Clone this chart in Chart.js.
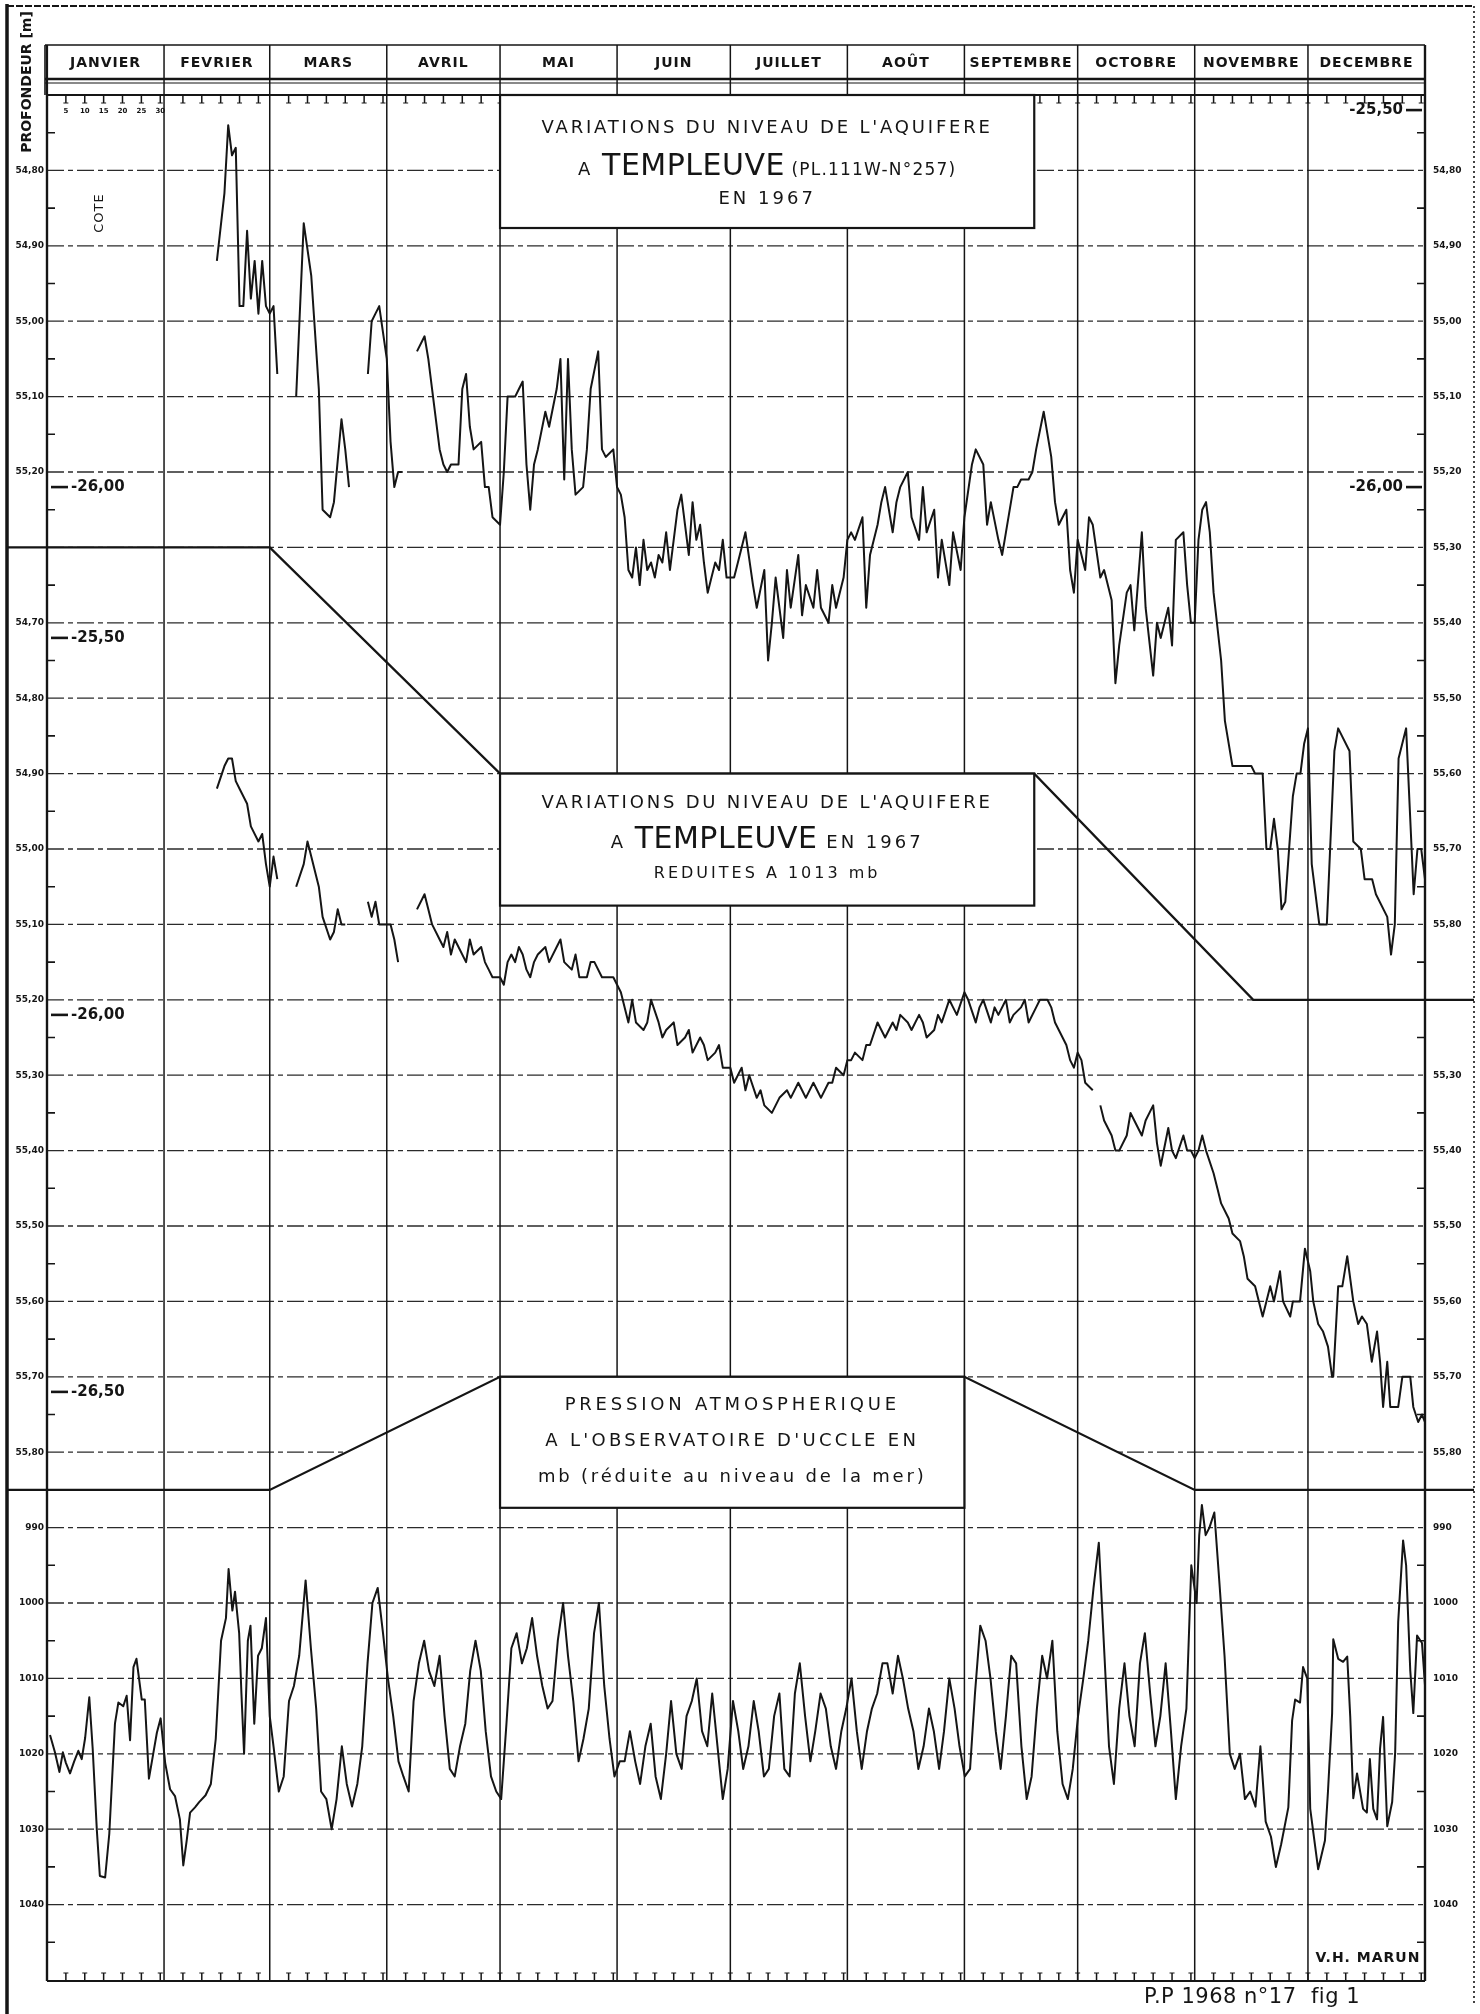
<!DOCTYPE html>
<html><head><meta charset="utf-8">
<script src="https://cdn.jsdelivr.net/npm/chart.js@4.4.1/dist/chart.umd.min.js"></script>
<style>html,body{margin:0;padding:0;background:#fff}#wrap{position:relative;width:1480px;height:2014px}</style>
</head><body><div id="wrap"><canvas id="c" width="1480" height="2014"></canvas></div>
<script>
// ---------- DATA ----------
const months = ['JANVIER','FEVRIER','MARS','AVRIL','MAI','JUIN','JUILLET','AOÛT','SEPTEMBRE','OCTOBRE','NOVEMBRE','DECEMBRE'];
const monthLengths = [31,28,31,30,31,30,31,31,30,31,30,31];
const janDayLabels = ['5','10','15','20','25','30'];
const topTicks = [54.80,54.90,55.00,55.10,55.20,55.30,55.40,55.50,55.60,55.70,55.80];
const midTicks = [54.70,54.80,54.90,55.00,55.10,55.20,55.30,55.40,55.50,55.60,55.70,55.80];
const pressTicks = [990,1000,1010,1020,1030,1040];
const depthLabels = ['-25,50','-26,00','-26,50'];
const depthCote = [54.72,55.22,55.72];

// Raw level (cote, m), day of year 1967
const topDays = [
 45,47,48,49,50,51,52,53,54,55,56,57,58,59,60,61, 63,
 66,68,70,72,73,75,76,78,79,80, 82,
 85,86,87,88,90,91,92,93,94, 96,
 98,100,101,102,104,105,106,107,109,110,111,112,113,115,116,117,118,120,
 121,122,123,124,125,126,127,128,129,130,132,133,135,136,137,138,139,140,142,143,144,146,147,148,150,151,152,
 153,154,155,156,157,158,159,160,161,162,163,164,165,166,167,168,169,170,171,172,173,174,175,176,177,178,179,180,
 182,184,185,187,188,190,191,192,193,195,196,197,199,200,201,203,204,205,207,208,209,211,212,213,
 214,216,217,218,220,221,222,224,225,226,228,229,231,232,233,235,236,237,239,240,242,243,
 245,246,248,249,250,252,253,254,256,257,258,260,261,262,264,266,267,268,270,271,272,
 273,275,276,277,279,280,282,283,284,286,287,288,290,291,293,294,295,297,298,299,301,302,303,304,
 305,306,307,308,309,311,312,314,315,316,318,319,320,322,323,324,325,326,327,328,330,331,332,333,334,335,336,337,339,341,342,345,346,348,349,351,352,355,356,357,358,360,362,363,364,365];
const topLevel = [
 54.92,54.83,54.74,54.78,54.77,54.98,54.98,54.88,54.97,54.92,54.99,54.92,54.98,54.99,54.98,55.07, null,
 55.10,54.87,54.94,55.09,55.25,55.26,55.24,55.13,55.17,55.22, null,
 55.07,55.00,54.99,54.98,55.05,55.16,55.22,55.20,55.20, null,
 55.04,55.02,55.05,55.09,55.17,55.19,55.20,55.19,55.19,55.09,55.07,55.14,55.17,55.16,55.22,55.22,55.26,55.27,
 55.20,55.10,55.10,55.10,55.09,55.08,55.19,55.25,55.19,55.17,55.12,55.14,55.09,55.05,55.21,55.05,55.17,55.23,55.22,55.17,55.09,55.04,55.17,55.18,55.17,55.22,55.23,
 55.26,55.33,55.34,55.30,55.35,55.29,55.33,55.32,55.34,55.31,55.32,55.28,55.33,55.29,55.25,55.23,55.27,55.31,55.24,55.29,55.27,55.32,55.36,55.34,55.32,55.33,55.29,55.34,
 55.34,55.30,55.28,55.35,55.38,55.33,55.45,55.40,55.34,55.42,55.33,55.38,55.31,55.39,55.35,55.38,55.33,55.38,55.40,55.35,55.38,55.34,55.29,55.28,
 55.29,55.26,55.38,55.31,55.27,55.24,55.22,55.28,55.24,55.22,55.20,55.26,55.29,55.22,55.28,55.25,55.34,55.29,55.35,55.28,55.33,55.26,
 55.19,55.17,55.19,55.27,55.24,55.29,55.31,55.28,55.22,55.22,55.21,55.21,55.20,55.17,55.12,55.18,55.24,55.27,55.25,55.33,55.36,
 55.29,55.33,55.26,55.27,55.34,55.33,55.37,55.48,55.43,55.36,55.35,55.41,55.28,55.38,55.47,55.40,55.42,55.38,55.43,55.29,55.28,55.35,55.40,55.40,
 55.29,55.25,55.24,55.28,55.36,55.45,55.53,55.59,55.59,55.59,55.59,55.59,55.60,55.60,55.70,55.70,55.66,55.70,55.78,55.77,55.63,55.60,55.60,55.56,55.54,55.72,55.76,55.80,55.80,55.57,55.54,55.57,55.69,55.70,55.74,55.74,55.76,55.79,55.84,55.80,55.58,55.54,55.76,55.70,55.70,55.74];

// Level reduced to 1013 mb (cote, m)
const midDays = [
 45,47,48,49,50,51,53,54,56,57,58,59,60,61, 63,
 66,68,69,70,72,73,75,76,77,78,79, 82,
 85,86,87,88,90,91,92,93, 96,
 98,100,101,102,104,105,106,107,108,109,111,112,113,115,116,117,118,120,121,
 122,123,124,125,126,127,128,129,130,132,133,135,136,137,139,140,141,143,144,145,147,148,150,151,152,
 154,155,156,158,159,160,162,163,164,166,167,169,170,171,173,174,175,177,178,179,181,182,
 184,185,186,188,189,190,192,193,194,196,197,199,200,201,203,204,205,207,208,209,211,212,213,
 214,216,217,218,220,221,222,224,225,226,228,229,231,232,233,235,236,237,239,240,241,243,
 244,246,247,248,250,251,252,254,255,256,258,259,260,262,263,265,266,267,268,270,271,272,273,274,275,277, 278,
 279,280,282,283,284,286,287,288,290,291,293,294,295,297,298,299,301,302,303,304,305,306,307,309,310,311,313,314,316,317,318,320,321,322,324,325,
 326.6,327.4,329.3,330,331.9,333.2,334.6,335.4,336.7,338,339.3,340.4,340.7,342,343.1,344.4,346,347.3,348.3,349.6,350.9,352.3,353.1,353.9,355,355.8,357.9,359,361.1,361.9,363.2,364.2,365];
const midLevel = [
 54.92,54.89,54.88,54.88,54.91,54.92,54.94,54.97,54.99,54.98,55.02,55.05,55.01,55.04, null,
 55.05,55.02,54.99,55.01,55.05,55.09,55.12,55.11,55.08,55.10,55.10, null,
 55.07,55.09,55.07,55.10,55.10,55.10,55.12,55.15, null,
 55.08,55.06,55.08,55.10,55.12,55.13,55.11,55.14,55.12,55.13,55.15,55.12,55.14,55.13,55.15,55.16,55.17,55.17,55.18,
 55.15,55.14,55.15,55.13,55.14,55.16,55.17,55.15,55.14,55.13,55.15,55.13,55.12,55.15,55.16,55.14,55.17,55.17,55.15,55.15,55.17,55.17,55.17,55.18,55.19,
 55.23,55.20,55.23,55.24,55.23,55.20,55.23,55.25,55.24,55.23,55.26,55.25,55.24,55.27,55.25,55.26,55.28,55.27,55.26,55.29,55.29,55.31,
 55.29,55.32,55.30,55.33,55.32,55.34,55.35,55.34,55.33,55.32,55.33,55.31,55.32,55.33,55.31,55.32,55.33,55.31,55.31,55.29,55.30,55.28,55.28,
 55.27,55.28,55.26,55.26,55.23,55.24,55.25,55.23,55.24,55.22,55.23,55.24,55.22,55.23,55.25,55.24,55.22,55.23,55.20,55.21,55.22,55.19,
 55.20,55.23,55.21,55.20,55.23,55.21,55.22,55.20,55.23,55.22,55.21,55.20,55.23,55.21,55.20,55.20,55.21,55.23,55.24,55.26,55.28,55.29,55.27,55.28,55.31,55.32, null,
 55.34,55.36,55.38,55.40,55.40,55.38,55.35,55.36,55.38,55.36,55.34,55.39,55.42,55.37,55.40,55.41,55.38,55.40,55.40,55.41,55.40,55.38,55.40,55.43,55.45,55.47,55.49,55.51,55.52,55.54,55.57,55.58,55.60,55.62,55.58,55.60,
 55.56,55.60,55.62,55.60,55.60,55.53,55.56,55.60,55.63,55.64,55.66,55.70,55.70,55.58,55.58,55.54,55.60,55.63,55.62,55.63,55.68,55.64,55.68,55.74,55.68,55.74,55.74,55.70,55.70,55.74,55.76,55.75,55.76];

// Atmospheric pressure at Uccle (mb)
const pressDays = [
 0.8,2.1,3.3,4.2,5.0,6.1,7.2,8.3,9.2,10.1,11.2,12.1,13.2,14.0,15.4,16.5,18.0,18.9,20.2,21.1,22.0,22.9,23.7,25.1,25.9,27.0,28.2,29.1,30.1,31.3,32.6,33.9,35.2,36.1,37.0,37.9,39.2,40.3,
 42.0,43.4,44.7,46.1,47.4,48.1,49.1,49.8,50.9,51.5,52.2,53.2,53.9,54.9,55.9,56.9,58.0,59.0,
 60.0,61.4,62.7,64.1,65.4,66.8,68.5,69.9,71.3,72.6,74.0,75.4,76.7,78.1,79.4,80.8,82.2,83.5,84.9,86.2,87.6,89.0,90.3,91.7,93.1,
 94.4,95.8,97.1,98.5,99.9,101.2,102.6,104.0,105.3,106.7,108.0,109.4,110.8,112.1,113.5,114.9,116.2,117.6,119.0,120.3,
 121.7,123.0,124.4,125.8,127.1,128.5,129.8,131.2,132.6,133.9,135.3,136.7,138.0,139.4,140.8,142.1,143.5,144.9,146.2,147.6,149.0,150.3,151.7,
 153.0,154.4,155.8,157.1,158.5,159.9,161.2,162.6,164.0,165.3,166.7,168.1,169.4,170.8,172.1,173.5,174.9,176.2,177.6,179.0,180.3,181.7,
 183.1,184.4,185.8,187.2,188.5,189.9,191.2,192.6,194.0,195.3,196.7,198.1,199.4,200.8,202.2,203.5,204.9,206.3,207.6,209.0,210.4,211.7,213.1,
 214.5,215.8,217.2,218.5,219.9,221.3,222.6,224.0,225.4,226.7,228.1,229.5,230.8,232.2,233.6,234.9,236.3,237.6,239.0,240.4,241.7,243.1,
 244.5,245.8,247.2,248.6,249.9,251.3,252.6,254.0,255.4,256.7,258.1,259.5,260.8,262.2,263.6,264.9,266.3,267.6,269.0,270.4,271.7,273.1,
 274.5,275.8,277.2,278.6,279.9,281.3,282.6,284.0,285.4,286.7,288.1,289.5,290.8,292.2,293.6,294.9,296.3,297.7,299.0,300.4,301.8,303.1,304.5,
 305.2,305.9,306.9,307.9,309.2,310.5,311.9,313.3,314.6,316.0,317.3,318.7,320.1,321.4,322.8,324.2,325.5,326.9,
 328.8,329.8,330.6,331.9,332.7,333.8,334.6,336.7,338.5,339.3,340.4,340.7,342.0,343.3,344.4,345.2,346.0,347.0,348.6,349.6,350.4,351.3,352.3,353.1,353.9,355.0,356.3,357.1,357.9,359.2,360.0,361.1,361.9,362.9,364.2,365.0];
const pressure = [
 1017.5,1019.8,1022.4,1019.8,1021.2,1022.6,1021.0,1019.6,1020.7,1017.9,1012.5,1019.3,1030.1,1036.2,1036.4,1030.6,1016.0,1013.2,1013.7,1012.3,1018.2,1008.5,1007.4,1012.8,1012.8,1023.3,1019.8,1017.2,1015.3,1021.2,1024.7,1025.6,1028.7,1034.8,1031.5,1027.8,1027.1,1026.4,
 1025.5,1024.0,1018.0,1005.0,1002.0,995.5,1001.0,998.5,1004.0,1012.0,1020.0,1005.0,1003.0,1016.0,1007.0,1006.0,1002.0,1015.0,
 1019,1025,1023,1013,1011,1007,997,1006,1014,1025,1026,1030,1026,1019,1024,1027,1024,1019,1008,1000,998,1004,1010,1015,1021,
 1023,1025,1013,1008,1005,1009,1011,1007,1015,1022,1023,1019,1016,1009,1005,1009,1017,1023,1025,1026,
 1016,1006,1004,1008,1006,1002,1007,1011,1014,1013,1005,1000,1007,1013,1021,1018,1014,1004,1000,1011,1018,1023,1021,
 1021,1017,1021,1024,1019,1016,1023,1026,1020,1013,1020,1022,1015,1013,1010,1017,1019,1012,1019,1026,1022,1013,
 1017,1022,1019,1013,1017,1023,1022,1015,1012,1022,1023,1012,1008,1015,1021,1017,1012,1014,1019,1022,1017,1014,1010,
 1017,1022,1017,1014,1012,1008,1008,1012,1007,1010,1014,1017,1022,1019,1014,1017,1022,1017,1010,1014,1019,1023,
 1022,1012,1003,1005,1010,1017,1022,1015,1007,1008,1019,1026,1023,1014,1007,1010,1005,1017,1024,1026,1022,1015,
 1010,1005,998,992,1005,1019,1024,1014,1008,1015,1019,1008,1004,1012,1019,1015,1008,1017,1026,1019,1014,995,1000,
 991,987,991,990,988,997,1007,1020,1022,1020,1026,1025,1027,1019,1029,1031,1035,1032,
 1027.1,1015.6,1012.8,1013.2,1008.5,1010.0,1027.3,1035.3,1031.5,1025.0,1014.6,1004.8,1007.4,1007.8,1007.1,1015.1,1025.9,1022.6,1027.3,1027.8,1020.7,1027.3,1028.7,1019.3,1015.1,1029.6,1026.4,1019.8,1002.5,991.7,995.0,1009.0,1014.6,1004.3,1005.3,1010.9];

// ---------- LAYOUT ----------
const FF = '"DejaVu Sans", "Liberation Sans", sans-serif';
const FRAME_L = 7, FRAME_R = 1474, HDR_TOP = 45, HDR_L1 = 79, HDR_L2 = 83;
const BOX12_RIGHT_DAY = 261.5, DIV1_END_DAY = 319.5;
const INK = '#151515';

function geom(chart){
  const s = chart.scales, ca = chart.chartArea;
  const X = d => s.x.getPixelForValue(d);
  const YT = v => s.yTop.getPixelForValue(v);
  const YM = v => s.yMid.getPixelForValue(v);
  const YB = v => s.yBot.getPixelForValue(v);
  const div1 = [[FRAME_L, YT(55.30)], [X(59), YT(55.30)], [X(120), YM(54.90)], [X(BOX12_RIGHT_DAY), YM(54.90)], [X(DIV1_END_DAY), YT(55.90)], [FRAME_R, YT(55.90)]];
  const div2 = [[FRAME_L, YB(985)], [X(59), YB(985)], [X(120), YM(55.70)], [X(243), YM(55.70)], [X(304), YB(985)], [FRAME_R, YB(985)]];
  return {ca, X, YT, YM, YB, div1, div2};
}
function yAt(poly, x){
  for (let i=0;i<poly.length-1;i++){const [x0,y0]=poly[i],[x1,y1]=poly[i+1]; if(x>=x0&&x<=x1) return x1===x0?y0:y0+(y1-y0)*(x-x0)/(x1-x0);}
  return poly[poly.length-1][1];
}
function pathPoly(ctx, pts, close){ctx.beginPath(); pts.forEach((p,i)=> i?ctx.lineTo(p[0],p[1]):ctx.moveTo(p[0],p[1])); if(close) ctx.closePath();}
function seg(ctx,x0,y0,x1,y1){ctx.beginPath();ctx.moveTo(x0,y0);ctx.lineTo(x1,y1);ctx.stroke();}
function txt(ctx, s, x, y, font, ls, align, base){
  ctx.font = font; ctx.letterSpacing = (ls||0)+'px'; ctx.textAlign = align||'center'; ctx.textBaseline = base||'middle';
  ctx.fillText(s, x, y); ctx.letterSpacing = '0px';
}
function richLine(ctx, parts, cx, baseY){
  let w = 0;
  parts.forEach(p=>{ctx.font=p.f; ctx.letterSpacing=p.ls+'px'; p.w = ctx.measureText(p.t).width; w += p.w;});
  let x = cx - w/2;
  parts.forEach(p=>{ctx.font=p.f; ctx.letterSpacing=p.ls+'px'; ctx.textAlign='left'; ctx.textBaseline='alphabetic'; ctx.fillText(p.t, x, baseY); x += p.w;});
  ctx.letterSpacing='0px';
}
const fmt = v => v.toFixed(2).replace('.', ',');

const decor = {
  id:'decor',
  beforeDraw(chart){const c=chart.ctx; c.save(); c.fillStyle='#fff'; c.fillRect(0,0,chart.width,chart.height); c.restore();},
  beforeDatasetsDraw(chart){
    const ctx = chart.ctx; const {ca, X, YT, YM, YB, div1, div2} = geom(chart);
    ctx.save();
    ctx.strokeStyle = INK; ctx.fillStyle = INK;
    const topPoly = [[FRAME_L, ca.top], [FRAME_R, ca.top], ...div1.slice().reverse()];
    const midPoly = [...div1, ...div2.slice().reverse()];
    const botPoly = [...div2, [FRAME_R, ca.bottom+3], [FRAME_L, ca.bottom+3]];
    const panels = [[topPoly, topTicks, YT, 0.05], [midPoly, midTicks, YM, 0.05], [botPoly, pressTicks, YB, 5]];
    panels.forEach(([poly, ticks, Y, half])=>{
      ctx.save(); pathPoly(ctx, poly, true); ctx.clip();
      ctx.strokeStyle = '#2b2b2b'; ctx.lineWidth = 1.3; ctx.setLineDash([17,4,5,4]);
      ticks.forEach(v=>{const y=Y(v); seg(ctx, ca.left, y, ca.right, y);});
      ctx.setLineDash([]); ctx.lineWidth = 1.6; ctx.strokeStyle = INK;
      const minors = ticks.map(v=>v-half).concat([ticks[ticks.length-1]+half]);
      minors.forEach(v=>{const y=Y(v); seg(ctx, ca.left, y, ca.left+8, y); seg(ctx, ca.right-8, y, ca.right, y);});
      ctx.restore();
    });
    // month lines
    const cum=[0]; monthLengths.forEach(l=>cum.push(cum[cum.length-1]+l));
    cum.forEach((b,i)=>{const x=X(b); ctx.lineWidth=(i===0||i===12)?2.2:1.5; seg(ctx, x, HDR_TOP, x, ca.bottom);});
    // header
    ctx.lineWidth=1.6; seg(ctx, ca.left-2, HDR_TOP, ca.right, HDR_TOP);
    ctx.lineWidth=2.6; seg(ctx, ca.left-2, HDR_L1, ca.right, HDR_L1);
    ctx.lineWidth=1.2; seg(ctx, ca.left-2, HDR_L2, ca.right, HDR_L2);
    ctx.lineWidth=2.2; seg(ctx, ca.left, ca.top, ca.right, ca.top);
    ctx.lineWidth=1.6; seg(ctx, ca.left-2, HDR_TOP, ca.left-2, ca.top);
    months.forEach((m,i)=>{ txt(ctx, m, X((cum[i]+cum[i+1])/2), 63, (i===0?'bold ':'600 ')+'14px '+FF, 1, 'center'); });
    // day ticks
    ctx.lineWidth=1.5;
    monthLengths.forEach((len,i)=>{ for(let k=5;k<=30;k+=5){ if(k<=len){const x=X(cum[i]+k); seg(ctx,x,ca.top,x,ca.top+8); seg(ctx,x,ca.bottom-8,x,ca.bottom); ctx.lineWidth=1; seg(ctx,x-2.5,ca.top+8,x+2.5,ca.top+8); seg(ctx,x-2.5,ca.bottom-8,x+2.5,ca.bottom-8); ctx.lineWidth=1.5;} } });
    janDayLabels.forEach((l,i)=> txt(ctx, l, X(5*(i+1)), ca.top+16, 'bold 7px '+FF, 0, 'center'));
    // axes
    ctx.lineWidth=2.2; seg(ctx, ca.left, ca.top, ca.left, ca.bottom); seg(ctx, ca.right, HDR_TOP, ca.right, ca.bottom); seg(ctx, ca.left, ca.bottom, ca.right, ca.bottom);
    // dividers
    ctx.lineWidth=2.3; pathPoly(ctx, div1, false); ctx.stroke(); pathPoly(ctx, div2, false); ctx.stroke();
    // value labels
    const lY1=yAt(div1,FRAME_L), lY2=yAt(div2,FRAME_L), rY1=yAt(div1,FRAME_R), rY2=yAt(div2,FRAME_R);
    const lf = 'bold 9px '+FF;
    const L = (s,y)=>txt(ctx, s, ca.left-3, y, lf, 0, 'right');
    const R = (s,y)=>txt(ctx, s, ca.right+8, y, lf, 0, 'left');
    topTicks.forEach(v=>{const y=YT(v); if(y<lY1-5) L(fmt(v),y); if(y<rY1-5) R(fmt(v),y);});
    midTicks.forEach(v=>{const y=YM(v); if(y>lY1+5&&y<lY2-5) L(fmt(v),y); if(y>rY1+5&&y<rY2-5) R(fmt(v),y);});
    pressTicks.forEach(v=>{const y=YB(v); L(String(v),y); R(String(v),y);});
    // depth labels
    const df = '600 15px '+FF;
    const DL = (i,Y)=>{const y=Y(depthCote[i]); ctx.lineWidth=2.6; seg(ctx, ca.left+4, y, ca.left+21, y); txt(ctx, depthLabels[i], ca.left+24, y, df, 0, 'left');};
    const DR = (i,Y)=>{const y=Y(depthCote[i]); ctx.lineWidth=2.6; seg(ctx, ca.right-19, y, ca.right-3, y); txt(ctx, depthLabels[i], ca.right-22, y, df, 0, 'right');};
    DL(1, YT); DR(0, YT); DR(1, YT);
    DL(0, YM); DL(1, YM); DL(2, YM);
    // frame
    ctx.lineWidth=3.5; seg(ctx, FRAME_L, 4, FRAME_L, chart.height);
    ctx.lineWidth=2; ctx.setLineDash([7,2]); seg(ctx, FRAME_L, 6, FRAME_R, 6);
    ctx.lineWidth=1.6; ctx.setLineDash([2,3]); seg(ctx, FRAME_R, 6, FRAME_R, chart.height-8); ctx.setLineDash([]);
    // side titles
    ctx.save(); ctx.translate(27, 82); ctx.rotate(-Math.PI/2); txt(ctx, 'PROFONDEUR [m]', 0, 0, 'bold 14px '+FF, 0, 'center'); ctx.restore();
    ctx.save(); ctx.translate(100, 213); ctx.rotate(-Math.PI/2); txt(ctx, 'COTE', 0, 0, '13px '+FF, 1, 'center'); ctx.restore();
    txt(ctx, 'V.H. MARUN', 1368, 1958, 'bold 14px '+FF, 1, 'center');
    txt(ctx, 'P.P 1968 n°17  fig 1', 1252, 1998, '21px '+FF, 0.5, 'center');
    ctx.restore();
  },
  afterDatasetsDraw(chart){
    const ctx = chart.ctx; const {ca, X, YM} = geom(chart);
    ctx.save(); ctx.fillStyle = INK; ctx.strokeStyle = INK;
    const box = (x1,y1,x2,y2)=>{ctx.fillStyle='#fff'; ctx.fillRect(x1,y1,x2-x1,y2-y1); ctx.lineWidth=2.2; ctx.strokeRect(x1,y1,x2-x1,y2-y1); ctx.fillStyle=INK;};
    const f18 = '18px '+FF;
    // box 1
    let x1=X(120), x2=X(BOX12_RIGHT_DAY), y1=ca.top, cx=(x1+x2)/2;
    box(x1,y1,x2,y1+133);
    txt(ctx, "VARIATIONS DU NIVEAU DE L'AQUIFERE", cx, y1+33, f18, 2.8);
    richLine(ctx, [{t:'A ', f:f18, ls:3}, {t:'TEMPLEUVE', f:'30px '+FF, ls:0.5}, {t:' (PL.111W-N°257)', f:'17px '+FF, ls:1.2}], cx, y1+80);
    txt(ctx, 'EN 1967', cx, y1+104, f18, 3);
    // box 2
    y1 = YM(54.90);
    box(x1,y1,x2,y1+132);
    txt(ctx, "VARIATIONS DU NIVEAU DE L'AQUIFERE", cx, y1+30, f18, 2.8);
    richLine(ctx, [{t:'A ', f:f18, ls:3}, {t:'TEMPLEUVE', f:'30px '+FF, ls:0.5}, {t:' EN 1967', f:f18, ls:3}], cx, y1+74);
    txt(ctx, 'REDUITES A 1013 mb', cx, y1+100, '16px '+FF, 3);
    // box 3
    x2 = X(243); y1 = YM(55.70); cx=(x1+x2)/2;
    box(x1,y1,x2,y1+131);
    txt(ctx, 'PRESSION ATMOSPHERIQUE', cx, y1+29, f18, 3.8);
    txt(ctx, "A L'OBSERVATOIRE D'UCCLE EN", cx, y1+65, f18, 3.3);
    txt(ctx, 'mb (réduite au niveau de la mer)', cx, y1+101, f18, 2.8);
    ctx.restore();
  }
};

const mk = (days, vals) => days.map((d,i)=>({x:d, y:vals[i]}));
const lineStyle = {borderColor: INK, borderWidth: 2, pointRadius: 0, tension: 0, fill: false, spanGaps: false, borderJoinStyle: 'round'};
new Chart(document.getElementById('c'), {
  type: 'line',
  data: {datasets: [
    Object.assign({label: 'Niveau brut', data: mk(topDays, topLevel), yAxisID: 'yTop'}, lineStyle),
    Object.assign({label: 'Niveau réduit à 1013 mb', data: mk(midDays, midLevel), yAxisID: 'yMid'}, lineStyle),
    Object.assign({label: 'Pression (mb)', data: mk(pressDays, pressure), yAxisID: 'yBot'}, lineStyle)
  ]},
  options: {
    responsive: false, animation: false, devicePixelRatio: 1,
    layout: {padding: {left: 47, top: 95, right: 1480-1425, bottom: 2014-1981}},
    plugins: {legend: {display: false}, tooltip: {enabled: false}},
    scales: {
      x: {type: 'linear', min: 0, max: 365, display: false},
      yTop: {type: 'linear', reverse: true, min: 54.70, max: 57.2013, display: false},
      yMid: {type: 'linear', reverse: true, min: 54.00, max: 56.5013, display: false},
      yBot: {type: 'linear', reverse: true, min: 800, max: 1050.13, display: false}
    }
  },
  plugins: [decor]
});
</script></body></html>
